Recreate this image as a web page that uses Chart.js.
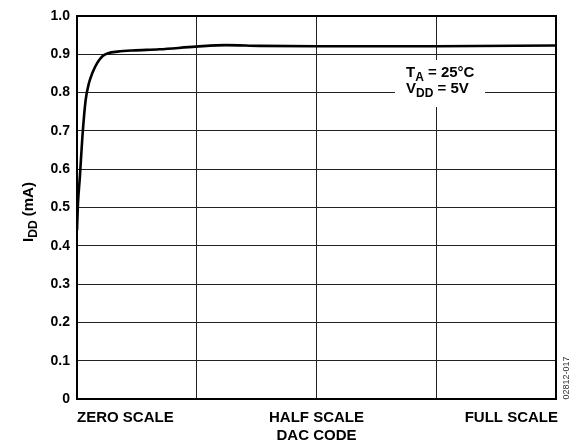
<!DOCTYPE html>
<html>
<head>
<meta charset="utf-8"/>
<style>
  html,body{margin:0;padding:0;background:#fff;}
  canvas{display:block;}
</style>
</head>
<body>
<canvas id="c" width="584" height="444"></canvas>
<script src="https://cdn.jsdelivr.net/npm/chart.js@4.4.0/dist/chart.umd.min.js"></script>
<script>
// DAC code as fraction of full scale, supply current in mA
const codeFrac = [0, 0.002, 0.006, 0.011, 0.018, 0.025, 0.032, 0.042, 0.053, 0.065, 0.085, 0.116, 0.172, 0.248, 0.311, 0.381, 0.5, 0.75, 1];
const iddMA    = [0.44, 0.51, 0.58, 0.68, 0.78, 0.825, 0.851, 0.877, 0.895, 0.903, 0.907, 0.910, 0.913, 0.920, 0.924, 0.922, 0.921, 0.921, 0.923];
const xLabels  = ['ZERO SCALE', 'HALF SCALE', 'FULL SCALE'];
const xLabelAt = [0, 0.5, 1];
const xTitle   = 'DAC CODE';
const yTitle   = [['I', false], ['DD', true], [' (mA)', false]];
const noteL1   = [['T', false], ['A', true], [' = 25°C', false]];
const noteL2   = [['V', false], ['DD', true], [' = 5V', false]];
const figId    = '02812-017';

const FONT = '"Liberation Sans", Arial, Helvetica, sans-serif';

function partsWidth(ctx, parts, size) {
  let w = 0;
  for (const [t, sub] of parts) {
    ctx.font = `bold ${sub ? size - 3 : size}px ${FONT}`;
    w += ctx.measureText(t).width;
  }
  return w;
}
function drawParts(ctx, parts, x, y, size) {
  for (const [t, sub] of parts) {
    ctx.font = `bold ${sub ? size - 3 : size}px ${FONT}`;
    ctx.fillText(t, x, sub ? y + 4 : y);
    x += ctx.measureText(t).width;
  }
}

const decor = {
  id: 'decor',
  afterDatasetsDraw(chart) {
    const { ctx, chartArea: a, scales } = chart;
    ctx.save();
    // frame
    ctx.strokeStyle = '#000';
    ctx.lineWidth = 2;
    ctx.strokeRect(a.left, a.top, a.right - a.left, a.bottom - a.top);

    // note box
    ctx.fillStyle = '#fff';
    ctx.fillRect(395, 60, 90, 47);
    ctx.fillStyle = '#000';
    ctx.textAlign = 'left';
    ctx.textBaseline = 'alphabetic';
    drawParts(ctx, noteL1, 406, 77, 15);
    drawParts(ctx, noteL2, 406, 93, 15);

    // x labels
    ctx.font = `bold 15px ${FONT}`;
    const aligns = ['left', 'center', 'right'];
    xLabels.forEach((t, i) => {
      ctx.textAlign = aligns[i];
      let x = scales.x.getPixelForValue(xLabelAt[i]);
      if (i === 2) x += 2;
      ctx.fillText(t, x, 422);
    });
    ctx.textAlign = 'center';
    ctx.fillText(xTitle, scales.x.getPixelForValue(0.5), 440);

    // y title
    ctx.save();
    ctx.translate(33, 212);
    ctx.rotate(-Math.PI / 2);
    ctx.textAlign = 'left';
    const w = partsWidth(ctx, yTitle, 15);
    drawParts(ctx, yTitle, -w / 2, 0, 15);
    ctx.restore();

    // figure id
    ctx.save();
    ctx.translate(569, 378);
    ctx.rotate(-Math.PI / 2);
    ctx.font = `9px ${FONT}`;
    ctx.fillStyle = '#333';
    ctx.textAlign = 'center';
    ctx.fillText(figId, 0, 0);
    ctx.restore();
    ctx.restore();
  }
};

new Chart(document.getElementById('c'), {
  type: 'line',
  data: {
    datasets: [{
      data: codeFrac.map((x, i) => ({ x, y: iddMA[i] })),
      borderColor: '#000',
      borderWidth: 2.6,
      pointRadius: 0,
      cubicInterpolationMode: 'monotone',
      fill: false
    }]
  },
  options: {
    responsive: false,
    devicePixelRatio: 1,
    animation: false,
    layout: { padding: { top: 16, right: 28, bottom: 0, left: 0 } },
    plugins: { legend: { display: false }, tooltip: { enabled: false } },
    scales: {
      x: {
        type: 'linear', min: 0, max: 1,
        afterFit: s => { s.height = 45; },
        ticks: { display: false, stepSize: 0.25 },
        grid: { color: '#222', lineWidth: 1, drawTicks: false },
        border: { display: false }
      },
      y: {
        min: 0, max: 1,
        afterFit: s => { s.width = 77; },
        ticks: {
          stepSize: 0.1, padding: 7, color: '#000',
          font: { family: FONT, size: 14, weight: 'bold' },
          callback: v => v === 0 ? '0' : v.toFixed(1)
        },
        grid: { color: '#222', lineWidth: 1, drawTicks: false },
        border: { display: false }
      }
    }
  },
  plugins: [decor]
});
</script>
</body>
</html>
